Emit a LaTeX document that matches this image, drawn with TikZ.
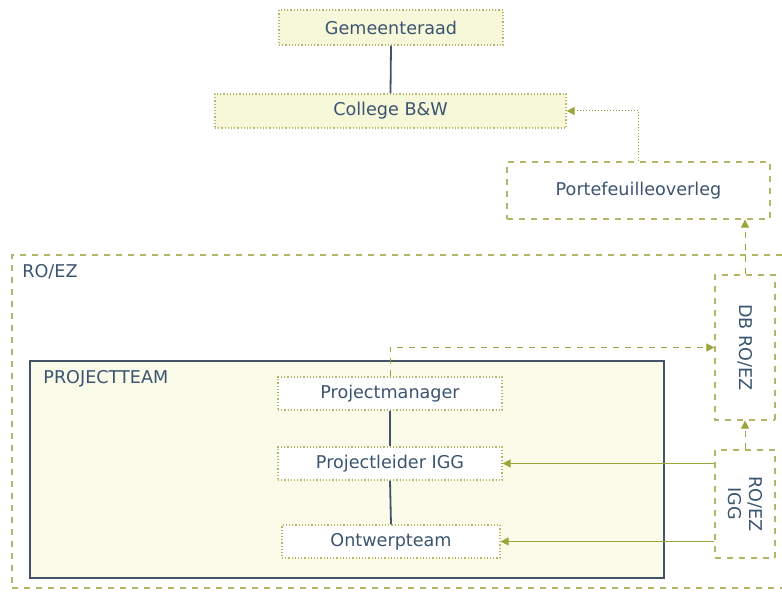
\documentclass[tikz,border=0pt]{standalone}
\usepackage{fontspec}
\setmainfont{DejaVu Sans}
\usetikzlibrary{arrows.meta}
\definecolor{txt}{HTML}{3B5470}
\definecolor{olv}{HTML}{B5B56A}
\definecolor{arr}{HTML}{9CA53A}
\definecolor{yel}{HTML}{F7F7DA}
\definecolor{pyel}{HTML}{FAFBE8}
\definecolor{dark}{HTML}{445468}
\begin{document}
\begin{tikzpicture}[x=0.5pt,y=-0.5pt,
  every node/.style={font=\fontsize{8.8pt}{10.5pt}\selectfont, text=txt, inner sep=0pt},
  ybox/.style={draw=olv, densely dotted, line width=0.6pt, fill=yel},
  wbox/.style={draw=olv, densely dotted, line width=0.6pt, fill=white},
  dbox/.style={draw=olv, dashed, line width=0.6pt, fill=white},
  solidln/.style={draw=dark, line width=0.9pt},
  arrln/.style={draw=arr, line width=0.5pt, -{Triangle[length=4pt,width=4pt]}}
]
\useasboundingbox (0,0) rectangle (782,597);
% RO/EZ container
\draw[olv, dashed, line width=0.6pt] (782,255) -- (12,255) -- (12,588);
\draw[olv, dashed, line width=1.1pt] (12,588) -- (782,588);
\node[anchor=west] (rolabel) at (22,272) {RO/EZ};
% Project team
\node[draw=dark, line width=1pt, fill=pyel, minimum width=317pt, minimum height=108.5pt] (pt) at (347,469.5) {};
\node[anchor=west] (ptlabel) at (43,379) {PROJECTTEAM};
% top
\node[ybox, minimum width=112pt, minimum height=17.5pt] (gr) at (391,27.5) {Gemeenteraad};
\node[ybox, minimum width=175.5pt, minimum height=17pt] (col) at (390.5,111) {College B\&W};
\node[dbox, minimum width=131.5pt, minimum height=28.5pt] (pf) at (638.5,190.5) {Portefeuilleoverleg};
% inside team
\node[wbox, minimum width=112pt, minimum height=16.5pt] (pm) at (390,393.5) {Projectmanager};
\node[wbox, minimum width=112pt, minimum height=16.5pt] (pl) at (390,463.5) {Projectleider IGG};
\node[wbox, minimum width=109pt, minimum height=16.5pt] (ot) at (391,541.5) {Ontwerpteam};
% right vertical (rotated: west = top, east = bottom, south = left)
\node[dbox, rotate=-90, minimum width=72.5pt, minimum height=30pt] (db) at (745,347.5) {DB RO/EZ};
\node[dbox, rotate=-90, minimum width=54pt, minimum height=30pt, align=center] (igg) at (745,504) {RO/EZ\\IGG};
% connectors
\draw[solidln] (gr.south) -- (col.north);
\draw[solidln] (pm.south) -- (pl.north);
\draw[solidln] (pl.south) -- (ot.north);
\draw[arrln, densely dotted] (pf.north) |- (col.east);
\draw[arrln, dashed] (db.west) -- (db.west |- pf.south);
\draw[arrln, dashed] (igg.west) -- (db.east);
\draw[arrln, dashed] (pm.north) |- (db.south);
\draw[arrln] (pl.east -| igg.south) -- (pl.east);
\draw[arrln] (ot.east -| igg.south) -- (ot.east);
\end{tikzpicture}
\end{document}
